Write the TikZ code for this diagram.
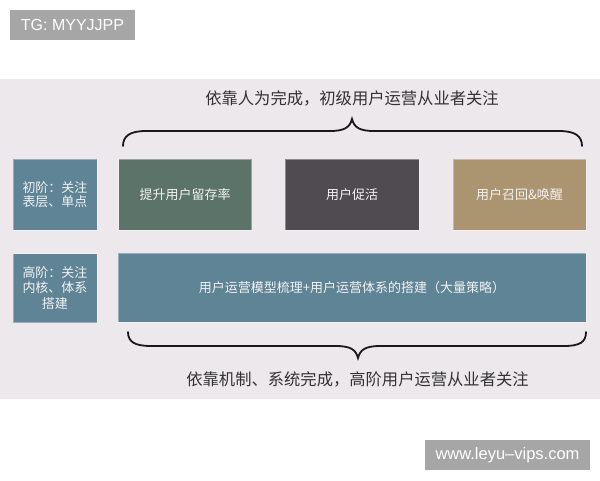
\documentclass[tikz,border=0pt]{standalone}
\usepackage{fontspec}
\setmainfont{Liberation Sans}
\newfontfamily\cjk{Noto Sans CJK SC}
\definecolor{band}{HTML}{ECE8EC}
\definecolor{wm}{HTML}{A6A6A6}
\definecolor{cblue}{HTML}{5F8496}
\definecolor{cgreen}{HTML}{5B7369}
\definecolor{cdark}{HTML}{4F4B50}
\definecolor{cgold}{HTML}{AB9570}
\definecolor{ctext}{HTML}{333333}
\definecolor{btext}{HTML}{F2F2F2}
\begin{document}
\begin{tikzpicture}[x=1pt,y=-1pt,
  box/.style={rectangle,inner sep=0pt,minimum height=71pt,text=btext,align=center,
    font=\cjk\fontsize{13}{14.5}\selectfont,draw=white,draw opacity=0.35,line width=0.8pt},
  wmbox/.style={rectangle,fill=wm,inner sep=0pt,minimum height=30pt,text=white},
  brace/.style={draw=black!90,line width=1.8pt,line cap=round},
  captext/.style={text=ctext,font=\cjk\fontsize{16.3}{18}\selectfont,inner sep=0pt}]
\useasboundingbox (0,0) rectangle (600,480);
\fill[white] (0,0) rectangle (600,480);
\fill[band] (0,79) rectangle (600,399);
% watermarks
\node[wmbox,minimum width=125pt,font=\fontsize{16}{18}\selectfont] (tg) at (72.5,25) {TG: MYYJJPP};
\node[wmbox,minimum width=165pt,font=\fontsize{16.5}{18}\selectfont] (www) at (507.5,455) {www.leyu–vips.com};
% top caption and brace
\node[captext] (toptext) at (352,98) {依靠人为完成，初级用户运营从业者关注};
\draw[brace] (123,146) .. controls (123,136) and (130,131) .. (146,131) -- (330,131)
  .. controls (345,131) and (350,127) .. (352,119)
  .. controls (354,127) and (359,131) .. (374,131) -- (559,131)
  .. controls (575,131) and (582,136) .. (582,146);
% row 1
\node[box,fill=cblue,minimum width=84pt] (b1) at (55,194.5) {初阶：关注\\表层、单点};
\node[box,fill=cgreen,minimum width=133pt] (b2) at (185,194.5) {提升用户留存率};
\node[box,fill=cdark,minimum width=134pt] (b3) at (352,194.5) {用户促活};
\node[box,fill=cgold,minimum width=133pt] (b4) at (519.5,194.5) {用户召回\&唤醒};
% row 2
\node[box,fill=cblue,minimum width=84pt,minimum height=69pt,font=\cjk\fontsize{13}{15.5}\selectfont] (c1) at (55,288) {高阶：关注\\内核、体系\\搭建};
\node[box,fill=cblue,minimum width=468pt,minimum height=69pt] (c2) at (352,287.5) {用户运营模型梳理+用户运营体系的搭建（大量策略）};
% bottom brace and caption
\draw[brace] (128,332) .. controls (128,342) and (135,346) .. (151,346) -- (336,346)
  .. controls (351,346) and (356,350) .. (358,358)
  .. controls (360,350) and (365,346) .. (380,346) -- (564,346)
  .. controls (580,346) and (586,342) .. (586,332);
\node[captext] (bottext) at (357.5,379) {依靠机制、系统完成，高阶用户运营从业者关注};
\end{tikzpicture}
\end{document}
